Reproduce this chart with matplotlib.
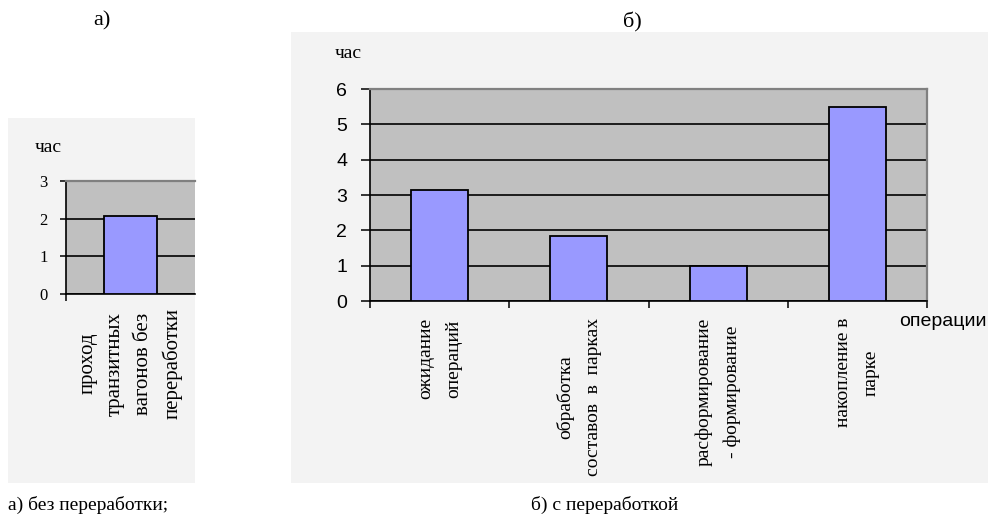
"""Two Excel-style bar charts: hours per operation, without / with processing."""

import matplotlib

matplotlib.use("Agg")
import matplotlib.pyplot as plt  # noqa: E402
import numpy as np  # noqa: E402
from matplotlib.patches import Rectangle  # noqa: E402
from matplotlib.transforms import Bbox, TransformedBbox, offset_copy  # noqa: E402

# --- data -------------------------------------------------------------
ops_a = ["проход\nтранзитных\nвагонов без\nпереработки"]
hours_a = [2.08]

ops_b = [
    "ожидание\nопераций",
    "обработка\nсоставов  в  парках",
    "расформирование\n- формирование",
    "накопление в\nпарке",
]
hours_b = [3.15, 1.83, 1.0, 5.5]

yticks_a = [0, 1, 2, 3]
yticks_b = [0, 1, 2, 3, 4, 5, 6]

# --- layout helpers (pixel -> figure fraction) ------------------------
W, H = 990, 525
SERIF = "Liberation Serif"
SANS = "Liberation Sans"
PANEL_BG = "#f3f3f3"
PLOT_BG = "#c0c0c0"
BAR = "#9999ff"


def fx(px):
    return px / W


def fy(py):
    return 1 - py / H


def axes_rect(left, top, right, bottom):
    return [fx(left), fy(bottom), (right - left) / W, (bottom - top) / H]


fig = plt.figure(figsize=(W / 100, H / 100), dpi=100)
fig.patch.set_facecolor("white")


def panel(left, top, right, bottom):
    # light grey chart area behind each diagram
    r = Rectangle((fx(left), fy(bottom)), (right - left) / W, (bottom - top) / H,
                  transform=fig.transFigure, facecolor=PANEL_BG, edgecolor="none",
                  zorder=-5)
    fig.patches.append(r)
    return TransformedBbox(Bbox.from_extents(fx(left), fy(bottom), fx(right), fy(top)),
                           fig.transFigure)


def bar_chart(rect, cats, vals, yticks, clip, tick_font, tick_size, tick_len,
              tick_pad, lab_size, lab_gap, lab_spacing):
    ax = fig.add_axes(rect)
    ax.set_facecolor(PLOT_BG)
    x = np.arange(len(cats))
    ax.bar(x, vals, width=0.41, color=BAR, edgecolor="black", linewidth=1.3, zorder=3)
    ax.set_xlim(-0.5, len(cats) - 0.5)
    ax.set_ylim(yticks[0], yticks[-1])
    ax.set_yticks(yticks)
    ax.set_yticklabels([str(t) for t in yticks], fontfamily=tick_font, fontsize=tick_size)
    ax.set_xticks(np.arange(len(cats) + 1) - 0.5)
    ax.set_xticklabels([])
    ax.tick_params(axis="y", direction="out", length=tick_len, width=1.1, pad=tick_pad)
    ax.tick_params(axis="x", direction="out", length=5, width=1.1)
    ax.yaxis.grid(True, color="black", linewidth=1.2)
    ax.set_axisbelow(True)
    for s in ("left", "bottom"):
        ax.spines[s].set_color("black")
        ax.spines[s].set_linewidth(1.2)
    for s in ("top", "right"):
        ax.spines[s].set_color("#808080")
        ax.spines[s].set_linewidth(1.6)
    trans = offset_copy(ax.get_xaxis_transform(), fig=fig, x=0, y=-lab_gap * 0.72,
                        units="points")
    for i, lab in enumerate(cats):
        t = ax.text(i, 0, lab, transform=trans, rotation=90, ha="center", va="top",
                    multialignment="center", fontfamily=SERIF, fontsize=lab_size,
                    linespacing=lab_spacing, clip_on=True)
        t.set_clip_box(clip)
    return ax


# --- panel a ----------------------------------------------------------
clip_a = panel(8, 118, 195, 483)
ax_a = bar_chart(axes_rect(66, 181, 195, 294), ops_a, hours_a, yticks_a, clip_a,
                 SERIF, 12, 4.3, 9, 15, 14, 1.6)
ax_a.spines["right"].set_visible(False)
ax_a.set_xticks([-0.5])
fig.text(fx(35), fy(148), "час", fontfamily=SERIF, fontsize=14, ha="left", va="center")
fig.text(fx(102), fy(21), "а)", fontfamily=SERIF, fontsize=16, ha="center", va="center")
fig.text(fx(8), fy(505), "а) без переработки;", fontfamily=SERIF, fontsize=14,
         ha="left", va="center")

# --- panel b ----------------------------------------------------------
clip_b = panel(291, 32, 988, 483)
ax_b = bar_chart(axes_rect(370, 89, 927, 301), ops_b, hours_b, yticks_b, clip_b,
                 SANS, 14, 6.5, 10, 14, 17, 1.85)
fig.text(fx(335), fy(54), "час", fontfamily=SERIF, fontsize=14, ha="left", va="center")
fig.text(fx(899), fy(322), "операции", fontfamily=SANS, fontsize=14, ha="left",
         va="center")
fig.text(fx(632), fy(22), "б)", fontfamily=SERIF, fontsize=16, ha="center", va="center")
fig.text(fx(531), fy(505), "б) с переработкой", fontfamily=SERIF, fontsize=14,
         ha="left", va="center")

fig.savefig("out.png", dpi=100)
